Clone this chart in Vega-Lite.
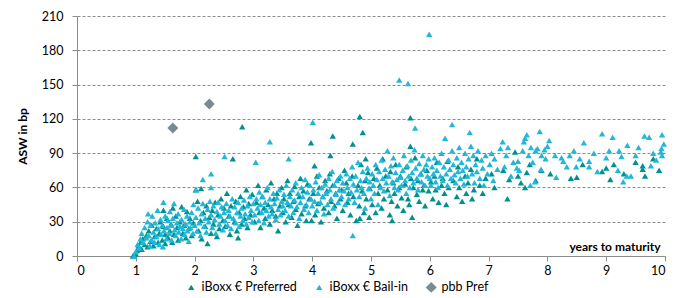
{
"$schema":"https://vega.github.io/schema/vega-lite/v6.json",
"width":588,"height":240,
"autosize":{"type":"none"},
"padding":{"left":77,"top":16,"right":21,"bottom":42},
"config":{"view":{"stroke":null},"font":"Lato","axis":{"labelFont":"Lato","titleFont":"Lato","labelColor":"#000000","titleColor":"#000000"}},
"data":{"values":[
{"x":0.95,"y":0,"c":"P"},{"x":0.97,"y":1,"c":"P"},{"x":1.0,"y":2,"c":"P"},{"x":1.02,"y":5,"c":"P"},{"x":1.05,"y":9,"c":"P"},{"x":1.08,"y":12,"c":"P"},{"x":1.1,"y":6,"c":"P"},
{"x":1.12,"y":15,"c":"P"},{"x":1.15,"y":10,"c":"P"},{"x":1.18,"y":18,"c":"P"},{"x":1.2,"y":8,"c":"P"},{"x":1.22,"y":22,"c":"P"},{"x":1.25,"y":13,"c":"P"},{"x":1.27,"y":27,"c":"P"},{"x":1.3,"y":9,"c":"P"},{"x":1.32,"y":17,"c":"P"},{"x":1.35,"y":24,"c":"P"},{"x":1.38,"y":12,"c":"P"},{"x":1.4,"y":20,"c":"P"},{"x":1.42,"y":30,"c":"P"},{"x":1.45,"y":14,"c":"P"},{"x":1.47,"y":26,"c":"P"},{"x":1.47,"y":40,"c":"P"},{"x":1.5,"y":11,"c":"P"},{"x":1.5,"y":19,"c":"P"},
{"x":1.53,"y":33,"c":"P"},{"x":1.55,"y":16,"c":"P"},{"x":1.58,"y":22,"c":"P"},{"x":1.6,"y":28,"c":"P"},{"x":1.62,"y":12,"c":"P"},{"x":1.63,"y":42,"c":"P"},{"x":1.65,"y":19,"c":"P"},{"x":1.68,"y":35,"c":"P"},{"x":1.7,"y":25,"c":"P"},{"x":1.72,"y":14,"c":"P"},{"x":1.75,"y":30,"c":"P"},{"x":1.78,"y":43,"c":"P"},{"x":1.8,"y":20,"c":"P"},{"x":1.82,"y":27,"c":"P"},{"x":1.85,"y":16,"c":"P"},{"x":1.87,"y":39,"c":"P"},{"x":1.9,"y":24,"c":"P"},{"x":1.92,"y":33,"c":"P"},{"x":1.95,"y":18,"c":"P"},{"x":1.98,"y":29,"c":"P"},
{"x":2.02,"y":87,"c":"P"},{"x":2.02,"y":58,"c":"P"},{"x":2.05,"y":48,"c":"P"},{"x":2.07,"y":22,"c":"P"},{"x":2.1,"y":31,"c":"P"},{"x":2.11,"y":59,"c":"P"},{"x":2.12,"y":15,"c":"P"},{"x":2.15,"y":38,"c":"P"},{"x":2.18,"y":26,"c":"P"},{"x":2.2,"y":44,"c":"P"},{"x":2.22,"y":11,"c":"P"},{"x":2.25,"y":34,"c":"P"},{"x":2.28,"y":20,"c":"P"},{"x":2.3,"y":40,"c":"P"},{"x":2.32,"y":28,"c":"P"},{"x":2.35,"y":47,"c":"P"},{"x":2.38,"y":17,"c":"P"},{"x":2.4,"y":36,"c":"P"},{"x":2.42,"y":24,"c":"P"},{"x":2.45,"y":50,"c":"P"},{"x":2.48,"y":31,"c":"P"},{"x":2.5,"y":42,"c":"P"},
{"x":2.52,"y":26,"c":"P"},{"x":2.55,"y":55,"c":"P"},{"x":2.58,"y":35,"c":"P"},{"x":2.6,"y":19,"c":"P"},{"x":2.62,"y":44,"c":"P"},{"x":2.65,"y":85,"c":"P"},{"x":2.68,"y":30,"c":"P"},{"x":2.7,"y":48,"c":"P"},{"x":2.72,"y":22,"c":"P"},{"x":2.74,"y":16,"c":"P"},{"x":2.76,"y":38,"c":"P"},{"x":2.78,"y":52,"c":"P"},{"x":2.8,"y":28,"c":"P"},{"x":2.81,"y":113,"c":"P"},{"x":2.83,"y":43,"c":"P"},{"x":2.85,"y":33,"c":"P"},{"x":2.88,"y":58,"c":"P"},{"x":2.9,"y":25,"c":"P"},{"x":2.92,"y":46,"c":"P"},{"x":2.95,"y":36,"c":"P"},{"x":2.98,"y":54,"c":"P"},
{"x":3.02,"y":30,"c":"P"},{"x":3.05,"y":47,"c":"P"},{"x":3.08,"y":62,"c":"P"},{"x":3.1,"y":38,"c":"P"},{"x":3.12,"y":25,"c":"P"},{"x":3.15,"y":52,"c":"P"},{"x":3.18,"y":42,"c":"P"},{"x":3.2,"y":33,"c":"P"},{"x":3.22,"y":58,"c":"P"},{"x":3.25,"y":45,"c":"P"},{"x":3.28,"y":28,"c":"P"},{"x":3.3,"y":64,"c":"P"},{"x":3.32,"y":40,"c":"P"},{"x":3.35,"y":50,"c":"P"},{"x":3.38,"y":35,"c":"P"},{"x":3.4,"y":55,"c":"P"},{"x":3.42,"y":22,"c":"P"},{"x":3.45,"y":44,"c":"P"},{"x":3.48,"y":60,"c":"P"},
{"x":3.5,"y":38,"c":"P"},{"x":3.52,"y":50,"c":"P"},{"x":3.55,"y":30,"c":"P"},{"x":3.58,"y":66,"c":"P"},{"x":3.6,"y":45,"c":"P"},{"x":3.62,"y":55,"c":"P"},{"x":3.65,"y":34,"c":"P"},{"x":3.68,"y":48,"c":"P"},{"x":3.7,"y":61,"c":"P"},{"x":3.72,"y":41,"c":"P"},{"x":3.75,"y":27,"c":"P"},{"x":3.78,"y":52,"c":"P"},{"x":3.8,"y":68,"c":"P"},{"x":3.82,"y":37,"c":"P"},{"x":3.85,"y":57,"c":"P"},{"x":3.88,"y":44,"c":"P"},{"x":3.9,"y":31,"c":"P"},{"x":3.92,"y":63,"c":"P"},{"x":3.95,"y":50,"c":"P"},{"x":3.98,"y":99,"c":"P"},{"x":3.99,"y":31,"c":"P"},
{"x":4.02,"y":55,"c":"P"},{"x":4.04,"y":79,"c":"P"},{"x":4.05,"y":36,"c":"P"},{"x":4.08,"y":70,"c":"P"},{"x":4.1,"y":46,"c":"P"},{"x":4.12,"y":60,"c":"P"},{"x":4.15,"y":30,"c":"P"},{"x":4.18,"y":52,"c":"P"},{"x":4.2,"y":42,"c":"P"},{"x":4.22,"y":66,"c":"P"},{"x":4.25,"y":57,"c":"P"},{"x":4.28,"y":38,"c":"P"},{"x":4.3,"y":72,"c":"P"},{"x":4.31,"y":88,"c":"P"},{"x":4.32,"y":48,"c":"P"},{"x":4.35,"y":105,"c":"P"},{"x":4.35,"y":62,"c":"P"},{"x":4.38,"y":44,"c":"P"},{"x":4.4,"y":55,"c":"P"},{"x":4.42,"y":33,"c":"P"},{"x":4.45,"y":68,"c":"P"},{"x":4.48,"y":50,"c":"P"},
{"x":4.5,"y":58,"c":"P"},{"x":4.52,"y":40,"c":"P"},{"x":4.55,"y":75,"c":"P"},{"x":4.58,"y":64,"c":"P"},{"x":4.6,"y":47,"c":"P"},{"x":4.62,"y":55,"c":"P"},{"x":4.65,"y":36,"c":"P"},{"x":4.68,"y":70,"c":"P"},{"x":4.69,"y":98,"c":"P"},{"x":4.7,"y":52,"c":"P"},{"x":4.75,"y":31,"c":"P"},{"x":4.78,"y":62,"c":"P"},{"x":4.8,"y":44,"c":"P"},{"x":4.81,"y":122,"c":"P"},{"x":4.81,"y":33,"c":"P"},{"x":4.83,"y":80,"c":"P"},{"x":4.85,"y":57,"c":"P"},{"x":4.86,"y":108,"c":"P"},{"x":4.88,"y":38,"c":"P"},{"x":4.9,"y":66,"c":"P"},{"x":4.91,"y":85,"c":"P"},{"x":4.92,"y":50,"c":"P"},{"x":4.95,"y":73,"c":"P"},{"x":4.97,"y":34,"c":"P"},{"x":4.98,"y":59,"c":"P"},
{"x":5.02,"y":45,"c":"P"},{"x":5.05,"y":68,"c":"P"},{"x":5.08,"y":38,"c":"P"},{"x":5.1,"y":77,"c":"P"},{"x":5.12,"y":55,"c":"P"},{"x":5.15,"y":62,"c":"P"},{"x":5.18,"y":42,"c":"P"},{"x":5.2,"y":85,"c":"P"},{"x":5.22,"y":50,"c":"P"},{"x":5.25,"y":70,"c":"P"},{"x":5.28,"y":58,"c":"P"},{"x":5.32,"y":36,"c":"P"},{"x":5.33,"y":74,"c":"P"},{"x":5.35,"y":48,"c":"P"},{"x":5.36,"y":31,"c":"P"},{"x":5.38,"y":64,"c":"P"},{"x":5.4,"y":55,"c":"P"},{"x":5.42,"y":80,"c":"P"},{"x":5.45,"y":44,"c":"P"},{"x":5.48,"y":60,"c":"P"},
{"x":5.5,"y":70,"c":"P"},{"x":5.52,"y":51,"c":"P"},{"x":5.55,"y":40,"c":"P"},{"x":5.58,"y":63,"c":"P"},{"x":5.6,"y":78,"c":"P"},{"x":5.63,"y":50,"c":"P"},{"x":5.65,"y":45,"c":"P"},{"x":5.67,"y":121,"c":"P"},{"x":5.67,"y":96,"c":"P"},{"x":5.68,"y":68,"c":"P"},{"x":5.7,"y":34,"c":"P"},{"x":5.72,"y":60,"c":"P"},{"x":5.75,"y":86,"c":"P"},{"x":5.78,"y":54,"c":"P"},{"x":5.8,"y":66,"c":"P"},{"x":5.82,"y":48,"c":"P"},{"x":5.85,"y":72,"c":"P"},{"x":5.88,"y":58,"c":"P"},{"x":5.9,"y":62,"c":"P"},{"x":5.92,"y":44,"c":"P"},{"x":5.95,"y":75,"c":"P"},{"x":5.98,"y":57,"c":"P"},
{"x":6.02,"y":65,"c":"P"},{"x":6.05,"y":50,"c":"P"},{"x":6.08,"y":70,"c":"P"},{"x":6.1,"y":58,"c":"P"},{"x":6.12,"y":82,"c":"P"},{"x":6.15,"y":47,"c":"P"},{"x":6.2,"y":62,"c":"P"},{"x":6.22,"y":68,"c":"P"},{"x":6.25,"y":55,"c":"P"},{"x":6.28,"y":45,"c":"P"},{"x":6.3,"y":83,"c":"P"},{"x":6.32,"y":60,"c":"P"},{"x":6.4,"y":66,"c":"P"},{"x":6.46,"y":52,"c":"P"},{"x":6.48,"y":78,"c":"P"},
{"x":6.5,"y":60,"c":"P"},{"x":6.55,"y":48,"c":"P"},{"x":6.6,"y":70,"c":"P"},{"x":6.62,"y":55,"c":"P"},{"x":6.65,"y":64,"c":"P"},{"x":6.7,"y":76,"c":"P"},{"x":6.72,"y":50,"c":"P"},{"x":6.75,"y":58,"c":"P"},{"x":6.8,"y":85,"c":"P"},{"x":6.85,"y":62,"c":"P"},{"x":6.9,"y":55,"c":"P"},{"x":6.95,"y":68,"c":"P"},
{"x":7.05,"y":72,"c":"P"},{"x":7.1,"y":60,"c":"P"},{"x":7.25,"y":75,"c":"P"},{"x":7.32,"y":50,"c":"P"},{"x":7.35,"y":67,"c":"P"},{"x":7.45,"y":91,"c":"P"},{"x":7.5,"y":70,"c":"P"},{"x":7.55,"y":64,"c":"P"},{"x":7.62,"y":60,"c":"P"},{"x":7.65,"y":73,"c":"P"},{"x":7.7,"y":80,"c":"P"},{"x":7.8,"y":66,"c":"P"},{"x":7.9,"y":75,"c":"P"},
{"x":8.05,"y":72,"c":"P"},{"x":8.4,"y":68,"c":"P"},{"x":8.5,"y":69,"c":"P"},{"x":8.6,"y":80,"c":"P"},{"x":8.93,"y":74,"c":"P"},{"x":9.0,"y":77,"c":"P"},{"x":9.07,"y":67,"c":"P"},{"x":9.13,"y":80,"c":"P"},{"x":9.3,"y":72,"c":"P"},{"x":9.5,"y":82,"c":"P"},{"x":9.62,"y":76,"c":"P"},{"x":9.62,"y":79,"c":"P"},{"x":9.66,"y":70,"c":"P"},{"x":9.8,"y":85,"c":"P"},{"x":9.9,"y":75,"c":"P"},
{"x":0.97,"y":0,"c":"B"},{"x":1.0,"y":4,"c":"B"},{"x":1.03,"y":10,"c":"B"},{"x":1.06,"y":7,"c":"B"},{"x":1.08,"y":15,"c":"B"},{"x":1.1,"y":20,"c":"B"},{"x":1.12,"y":12,"c":"B"},{"x":1.15,"y":25,"c":"B"},{"x":1.18,"y":16,"c":"B"},{"x":1.2,"y":30,"c":"B"},
{"x":1.21,"y":37,"c":"B"},{"x":1.22,"y":18,"c":"B"},{"x":1.24,"y":9,"c":"B"},{"x":1.25,"y":27,"c":"B"},{"x":1.27,"y":14,"c":"B"},{"x":1.28,"y":35,"c":"B"},{"x":1.3,"y":21,"c":"B"},{"x":1.32,"y":12,"c":"B"},{"x":1.33,"y":29,"c":"B"},{"x":1.35,"y":17,"c":"B"},{"x":1.37,"y":40,"c":"B"},{"x":1.38,"y":24,"c":"B"},{"x":1.4,"y":10,"c":"B"},{"x":1.42,"y":32,"c":"B"},{"x":1.43,"y":19,"c":"B"},{"x":1.45,"y":27,"c":"B"},{"x":1.46,"y":8,"c":"B"},{"x":1.47,"y":47,"c":"B"},{"x":1.48,"y":22,"c":"B"},{"x":1.5,"y":35,"c":"B"},
{"x":1.52,"y":15,"c":"B"},{"x":1.53,"y":25,"c":"B"},{"x":1.55,"y":31,"c":"B"},{"x":1.57,"y":20,"c":"B"},{"x":1.58,"y":39,"c":"B"},{"x":1.6,"y":27,"c":"B"},{"x":1.61,"y":14,"c":"B"},{"x":1.63,"y":33,"c":"B"},{"x":1.65,"y":46,"c":"B"},{"x":1.66,"y":23,"c":"B"},{"x":1.68,"y":18,"c":"B"},{"x":1.7,"y":29,"c":"B"},{"x":1.72,"y":37,"c":"B"},{"x":1.73,"y":21,"c":"B"},{"x":1.75,"y":26,"c":"B"},{"x":1.77,"y":15,"c":"B"},{"x":1.78,"y":32,"c":"B"},{"x":1.8,"y":24,"c":"B"},{"x":1.82,"y":41,"c":"B"},{"x":1.83,"y":19,"c":"B"},{"x":1.85,"y":28,"c":"B"},{"x":1.87,"y":35,"c":"B"},{"x":1.88,"y":22,"c":"B"},{"x":1.9,"y":13,"c":"B"},{"x":1.92,"y":30,"c":"B"},{"x":1.93,"y":25,"c":"B"},{"x":1.95,"y":38,"c":"B"},{"x":1.97,"y":20,"c":"B"},{"x":1.98,"y":45,"c":"B"},{"x":2.0,"y":27,"c":"B"},
{"x":2.02,"y":34,"c":"B"},{"x":2.03,"y":58,"c":"B"},{"x":2.04,"y":22,"c":"B"},{"x":2.06,"y":42,"c":"B"},{"x":2.08,"y":29,"c":"B"},{"x":2.1,"y":18,"c":"B"},{"x":2.12,"y":37,"c":"B"},{"x":2.14,"y":67,"c":"B"},{"x":2.14,"y":46,"c":"B"},{"x":2.16,"y":26,"c":"B"},{"x":2.18,"y":33,"c":"B"},{"x":2.2,"y":21,"c":"B"},{"x":2.22,"y":41,"c":"B"},{"x":2.24,"y":30,"c":"B"},{"x":2.26,"y":48,"c":"B"},{"x":2.28,"y":72,"c":"B"},{"x":2.28,"y":60,"c":"B"},{"x":2.28,"y":36,"c":"B"},{"x":2.3,"y":25,"c":"B"},{"x":2.32,"y":44,"c":"B"},{"x":2.34,"y":32,"c":"B"},{"x":2.36,"y":20,"c":"B"},{"x":2.38,"y":39,"c":"B"},{"x":2.4,"y":47,"c":"B"},{"x":2.42,"y":28,"c":"B"},{"x":2.44,"y":35,"c":"B"},{"x":2.46,"y":43,"c":"B"},{"x":2.48,"y":23,"c":"B"},{"x":2.5,"y":38,"c":"B"},{"x":2.51,"y":87,"c":"B"},
{"x":2.52,"y":31,"c":"B"},{"x":2.54,"y":46,"c":"B"},{"x":2.56,"y":27,"c":"B"},{"x":2.58,"y":40,"c":"B"},{"x":2.6,"y":35,"c":"B"},{"x":2.62,"y":24,"c":"B"},{"x":2.64,"y":50,"c":"B"},{"x":2.66,"y":33,"c":"B"},{"x":2.68,"y":43,"c":"B"},{"x":2.7,"y":29,"c":"B"},{"x":2.72,"y":38,"c":"B"},{"x":2.74,"y":47,"c":"B"},{"x":2.76,"y":26,"c":"B"},{"x":2.78,"y":35,"c":"B"},{"x":2.8,"y":42,"c":"B"},{"x":2.82,"y":31,"c":"B"},{"x":2.84,"y":49,"c":"B"},{"x":2.86,"y":37,"c":"B"},{"x":2.88,"y":28,"c":"B"},{"x":2.9,"y":44,"c":"B"},{"x":2.92,"y":34,"c":"B"},{"x":2.94,"y":52,"c":"B"},{"x":2.96,"y":40,"c":"B"},{"x":2.98,"y":30,"c":"B"},{"x":3.0,"y":46,"c":"B"},
{"x":3.02,"y":36,"c":"B"},{"x":3.04,"y":82,"c":"B"},{"x":3.05,"y":50,"c":"B"},{"x":3.07,"y":42,"c":"B"},{"x":3.09,"y":31,"c":"B"},{"x":3.1,"y":56,"c":"B"},{"x":3.12,"y":45,"c":"B"},{"x":3.14,"y":38,"c":"B"},{"x":3.16,"y":52,"c":"B"},{"x":3.18,"y":29,"c":"B"},{"x":3.2,"y":47,"c":"B"},{"x":3.22,"y":40,"c":"B"},{"x":3.24,"y":60,"c":"B"},{"x":3.26,"y":35,"c":"B"},{"x":3.28,"y":100,"c":"B"},{"x":3.28,"y":50,"c":"B"},{"x":3.3,"y":43,"c":"B"},{"x":3.32,"y":37,"c":"B"},{"x":3.34,"y":55,"c":"B"},{"x":3.36,"y":46,"c":"B"},{"x":3.38,"y":32,"c":"B"},{"x":3.4,"y":51,"c":"B"},{"x":3.42,"y":41,"c":"B"},{"x":3.44,"y":58,"c":"B"},{"x":3.46,"y":36,"c":"B"},{"x":3.48,"y":48,"c":"B"},{"x":3.5,"y":44,"c":"B"},
{"x":3.52,"y":54,"c":"B"},{"x":3.54,"y":40,"c":"B"},{"x":3.56,"y":62,"c":"B"},{"x":3.58,"y":47,"c":"B"},{"x":3.6,"y":85,"c":"B"},{"x":3.6,"y":35,"c":"B"},{"x":3.62,"y":52,"c":"B"},{"x":3.64,"y":44,"c":"B"},{"x":3.66,"y":58,"c":"B"},{"x":3.68,"y":38,"c":"B"},{"x":3.7,"y":49,"c":"B"},{"x":3.72,"y":64,"c":"B"},{"x":3.74,"y":43,"c":"B"},{"x":3.76,"y":55,"c":"B"},{"x":3.78,"y":33,"c":"B"},{"x":3.8,"y":47,"c":"B"},{"x":3.82,"y":60,"c":"B"},{"x":3.84,"y":52,"c":"B"},{"x":3.86,"y":41,"c":"B"},{"x":3.88,"y":67,"c":"B"},{"x":3.9,"y":45,"c":"B"},{"x":3.92,"y":56,"c":"B"},{"x":3.94,"y":38,"c":"B"},{"x":3.96,"y":62,"c":"B"},{"x":3.98,"y":50,"c":"B"},{"x":4.0,"y":44,"c":"B"},
{"x":4.01,"y":117,"c":"B"},{"x":4.02,"y":58,"c":"B"},{"x":4.04,"y":48,"c":"B"},{"x":4.06,"y":65,"c":"B"},{"x":4.08,"y":40,"c":"B"},{"x":4.1,"y":55,"c":"B"},{"x":4.12,"y":71,"c":"B"},{"x":4.14,"y":47,"c":"B"},{"x":4.16,"y":60,"c":"B"},{"x":4.18,"y":52,"c":"B"},{"x":4.2,"y":37,"c":"B"},{"x":4.22,"y":63,"c":"B"},{"x":4.24,"y":55,"c":"B"},{"x":4.26,"y":45,"c":"B"},{"x":4.28,"y":68,"c":"B"},{"x":4.3,"y":58,"c":"B"},{"x":4.32,"y":50,"c":"B"},{"x":4.34,"y":74,"c":"B"},{"x":4.36,"y":42,"c":"B"},{"x":4.38,"y":62,"c":"B"},{"x":4.4,"y":54,"c":"B"},{"x":4.42,"y":66,"c":"B"},{"x":4.44,"y":47,"c":"B"},{"x":4.46,"y":58,"c":"B"},{"x":4.48,"y":70,"c":"B"},{"x":4.5,"y":52,"c":"B"},
{"x":4.52,"y":64,"c":"B"},{"x":4.54,"y":57,"c":"B"},{"x":4.56,"y":45,"c":"B"},{"x":4.58,"y":72,"c":"B"},{"x":4.6,"y":60,"c":"B"},{"x":4.62,"y":50,"c":"B"},{"x":4.64,"y":68,"c":"B"},{"x":4.66,"y":56,"c":"B"},{"x":4.68,"y":78,"c":"B"},{"x":4.69,"y":18,"c":"B"},{"x":4.7,"y":63,"c":"B"},{"x":4.72,"y":47,"c":"B"},{"x":4.74,"y":70,"c":"B"},{"x":4.76,"y":58,"c":"B"},{"x":4.78,"y":82,"c":"B"},{"x":4.8,"y":52,"c":"B"},{"x":4.82,"y":66,"c":"B"},{"x":4.84,"y":60,"c":"B"},{"x":4.86,"y":74,"c":"B"},{"x":4.88,"y":55,"c":"B"},{"x":4.9,"y":42,"c":"B"},{"x":4.92,"y":68,"c":"B"},{"x":4.94,"y":77,"c":"B"},{"x":4.96,"y":59,"c":"B"},{"x":4.98,"y":65,"c":"B"},{"x":5.0,"y":50,"c":"B"},
{"x":5.02,"y":72,"c":"B"},{"x":5.04,"y":62,"c":"B"},{"x":5.06,"y":55,"c":"B"},{"x":5.08,"y":80,"c":"B"},{"x":5.1,"y":67,"c":"B"},{"x":5.12,"y":45,"c":"B"},{"x":5.14,"y":74,"c":"B"},{"x":5.16,"y":60,"c":"B"},{"x":5.18,"y":84,"c":"B"},{"x":5.2,"y":68,"c":"B"},{"x":5.22,"y":57,"c":"B"},{"x":5.24,"y":76,"c":"B"},{"x":5.26,"y":64,"c":"B"},{"x":5.28,"y":92,"c":"B"},{"x":5.3,"y":70,"c":"B"},{"x":5.32,"y":53,"c":"B"},{"x":5.34,"y":79,"c":"B"},{"x":5.36,"y":65,"c":"B"},{"x":5.38,"y":86,"c":"B"},{"x":5.4,"y":60,"c":"B"},{"x":5.42,"y":73,"c":"B"},{"x":5.44,"y":67,"c":"B"},{"x":5.46,"y":58,"c":"B"},{"x":5.48,"y":154,"c":"B"},{"x":5.48,"y":80,"c":"B"},{"x":5.5,"y":69,"c":"B"},
{"x":5.52,"y":62,"c":"B"},{"x":5.54,"y":75,"c":"B"},{"x":5.56,"y":88,"c":"B"},{"x":5.58,"y":66,"c":"B"},{"x":5.6,"y":55,"c":"B"},{"x":5.62,"y":79,"c":"B"},{"x":5.63,"y":151,"c":"B"},{"x":5.64,"y":70,"c":"B"},{"x":5.66,"y":60,"c":"B"},{"x":5.68,"y":84,"c":"B"},{"x":5.7,"y":73,"c":"B"},{"x":5.72,"y":64,"c":"B"},{"x":5.74,"y":93,"c":"B"},{"x":5.75,"y":112,"c":"B"},{"x":5.76,"y":77,"c":"B"},{"x":5.78,"y":68,"c":"B"},{"x":5.8,"y":58,"c":"B"},{"x":5.82,"y":81,"c":"B"},{"x":5.84,"y":72,"c":"B"},{"x":5.86,"y":65,"c":"B"},{"x":5.88,"y":88,"c":"B"},{"x":5.9,"y":76,"c":"B"},{"x":5.92,"y":62,"c":"B"},{"x":5.94,"y":80,"c":"B"},{"x":5.96,"y":70,"c":"B"},{"x":5.99,"y":194,"c":"B"},{"x":5.98,"y":85,"c":"B"},
{"x":6.0,"y":68,"c":"B"},{"x":6.02,"y":62,"c":"B"},{"x":6.04,"y":78,"c":"B"},{"x":6.06,"y":72,"c":"B"},{"x":6.08,"y":86,"c":"B"},{"x":6.1,"y":65,"c":"B"},{"x":6.12,"y":75,"c":"B"},{"x":6.14,"y":60,"c":"B"},{"x":6.16,"y":82,"c":"B"},{"x":6.18,"y":70,"c":"B"},{"x":6.2,"y":90,"c":"B"},{"x":6.22,"y":66,"c":"B"},{"x":6.24,"y":78,"c":"B"},{"x":6.26,"y":103,"c":"B"},{"x":6.28,"y":72,"c":"B"},{"x":6.3,"y":62,"c":"B"},{"x":6.32,"y":84,"c":"B"},{"x":6.34,"y":76,"c":"B"},{"x":6.36,"y":68,"c":"B"},{"x":6.38,"y":115,"c":"B"},{"x":6.38,"y":92,"c":"B"},{"x":6.4,"y":80,"c":"B"},{"x":6.42,"y":71,"c":"B"},{"x":6.44,"y":64,"c":"B"},{"x":6.46,"y":86,"c":"B"},{"x":6.48,"y":74,"c":"B"},{"x":6.5,"y":95,"c":"B"},
{"x":6.52,"y":68,"c":"B"},{"x":6.54,"y":82,"c":"B"},{"x":6.56,"y":75,"c":"B"},{"x":6.58,"y":63,"c":"B"},{"x":6.6,"y":90,"c":"B"},{"x":6.62,"y":78,"c":"B"},{"x":6.64,"y":70,"c":"B"},{"x":6.66,"y":85,"c":"B"},{"x":6.68,"y":108,"c":"B"},{"x":6.7,"y":96,"c":"B"},{"x":6.72,"y":72,"c":"B"},{"x":6.74,"y":88,"c":"B"},{"x":6.76,"y":64,"c":"B"},{"x":6.78,"y":80,"c":"B"},{"x":6.8,"y":74,"c":"B"},{"x":6.82,"y":92,"c":"B"},{"x":6.85,"y":68,"c":"B"},{"x":6.88,"y":84,"c":"B"},{"x":6.9,"y":77,"c":"B"},{"x":6.92,"y":62,"c":"B"},{"x":6.95,"y":88,"c":"B"},{"x":6.98,"y":72,"c":"B"},
{"x":7.02,"y":80,"c":"B"},{"x":7.05,"y":90,"c":"B"},{"x":7.08,"y":66,"c":"B"},{"x":7.1,"y":85,"c":"B"},{"x":7.15,"y":76,"c":"B"},{"x":7.2,"y":94,"c":"B"},{"x":7.24,"y":100,"c":"B"},{"x":7.27,"y":78,"c":"B"},{"x":7.3,"y":88,"c":"B"},{"x":7.33,"y":95,"c":"B"},{"x":7.38,"y":70,"c":"B"},{"x":7.42,"y":82,"c":"B"},{"x":7.48,"y":77,"c":"B"},{"x":7.5,"y":83,"c":"B"},{"x":7.52,"y":75,"c":"B"},{"x":7.58,"y":92,"c":"B"},{"x":7.6,"y":100,"c":"B"},{"x":7.62,"y":103,"c":"B"},{"x":7.65,"y":106,"c":"B"},{"x":7.68,"y":88,"c":"B"},{"x":7.71,"y":62,"c":"B"},{"x":7.72,"y":95,"c":"B"},{"x":7.75,"y":82,"c":"B"},{"x":7.79,"y":65,"c":"B"},{"x":7.8,"y":92,"c":"B"},{"x":7.83,"y":94,"c":"B"},{"x":7.87,"y":109,"c":"B"},{"x":7.89,"y":76,"c":"B"},{"x":7.9,"y":88,"c":"B"},{"x":7.95,"y":93,"c":"B"},{"x":7.97,"y":85,"c":"B"},
{"x":8.0,"y":96,"c":"B"},{"x":8.03,"y":101,"c":"B"},{"x":8.13,"y":88,"c":"B"},{"x":8.15,"y":69,"c":"B"},{"x":8.24,"y":86,"c":"B"},{"x":8.27,"y":83,"c":"B"},{"x":8.33,"y":78,"c":"B"},{"x":8.38,"y":88,"c":"B"},{"x":8.45,"y":92,"c":"B"},{"x":8.49,"y":78,"c":"B"},{"x":8.55,"y":85,"c":"B"},{"x":8.62,"y":99,"c":"B"},{"x":8.71,"y":78,"c":"B"},{"x":8.71,"y":83,"c":"B"},{"x":8.79,"y":90,"c":"B"},{"x":8.85,"y":74,"c":"B"},{"x":8.93,"y":107,"c":"B"},{"x":9.0,"y":86,"c":"B"},{"x":9.05,"y":92,"c":"B"},{"x":9.11,"y":104,"c":"B"},{"x":9.2,"y":75,"c":"B"},{"x":9.22,"y":92,"c":"B"},{"x":9.26,"y":87,"c":"B"},{"x":9.29,"y":65,"c":"B"},{"x":9.35,"y":70,"c":"B"},{"x":9.36,"y":97,"c":"B"},{"x":9.42,"y":70,"c":"B"},{"x":9.5,"y":88,"c":"B"},{"x":9.55,"y":95,"c":"B"},{"x":9.65,"y":105,"c":"B"},{"x":9.73,"y":104,"c":"B"},{"x":9.76,"y":79,"c":"B"},{"x":9.8,"y":90,"c":"B"},{"x":9.85,"y":84,"c":"B"},{"x":9.93,"y":91,"c":"B"},{"x":9.94,"y":94,"c":"B"},{"x":9.95,"y":106,"c":"B"},{"x":9.95,"y":88,"c":"B"},{"x":9.98,"y":98,"c":"B"},
{"x":1.63,"y":112,"c":"D"},{"x":2.25,"y":133,"c":"D"}
]},
"transform":[{"lookup":"c","from":{"data":{"values":[{"c":"P","series":"iBoxx € Preferred"},{"c":"B","series":"iBoxx € Bail-in"},{"c":"D","series":"pbb Pref"}]},"key":"c","fields":["series"]}}],
"mark":{"type":"point","filled":true,"opacity":1},
"encoding":{
"x":{"field":"x","type":"quantitative","scale":{"domain":[0,10],"nice":false},
"axis":{"values":[0,1,2,3,4,5,6,7,8,9,10],"grid":false,"domainColor":"#8c8c8c","tickColor":"#8c8c8c","tickSize":5,"labelFontSize":12.5,"labelPadding":3,"title":"years to maturity","titleFontSize":12,"titleFontWeight":"bold","titleAnchor":"end","titleAlign":"right","titleBaseline":"middle","titleX":583,"titleY":-10}},
"y":{"field":"y","type":"quantitative","scale":{"domain":[0,210],"nice":false},
"axis":{"values":[0,30,60,90,120,150,180,210],"grid":true,"gridDash":[3,2],"gridColor":"#8c8c8c","domainColor":"#8c8c8c","tickColor":"#8c8c8c","tickSize":5,"labelFontSize":12.5,"labelPadding":9,"title":"ASW in bp","titleFontSize":12,"titleFontWeight":"bold","titleAngle":270,"titleAlign":"center","titleBaseline":"middle","titleX":-55,"titleY":120}},
"color":{"field":"series","type":"nominal","scale":{"domain":["iBoxx € Preferred","iBoxx € Bail-in","pbb Pref"],"range":["#00918F","#22B7D8","#7A8A92"]},
"legend":{"title":null,"orient":"none","legendX":108,"legendY":265,"direction":"horizontal","labelFontSize":12.5,"labelColor":"#000000","labelFont":"Lato","symbolSize":40,"labelOffset":4,"columnPadding":16,"symbolStrokeWidth":0}},
"shape":{"field":"series","type":"nominal","scale":{"domain":["iBoxx € Preferred","iBoxx € Bail-in","pbb Pref"],"range":["triangle-up","triangle-up","diamond"]}},
"size":{"field":"series","type":"nominal","scale":{"type":"ordinal","domain":["iBoxx € Preferred","iBoxx € Bail-in","pbb Pref"],"range":[40,40,120]},"legend":null}
}
}
